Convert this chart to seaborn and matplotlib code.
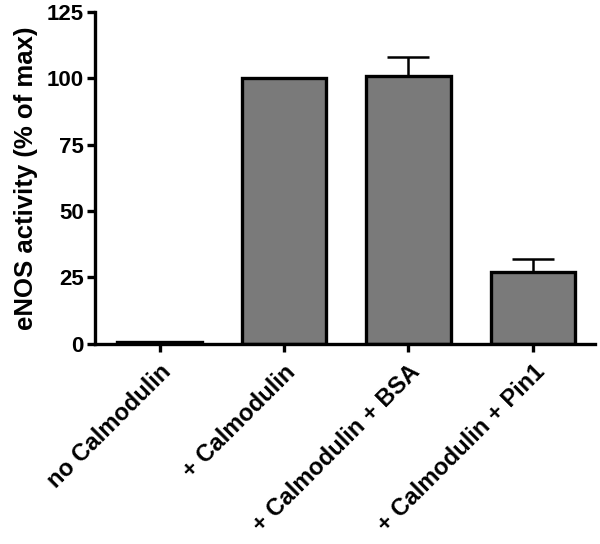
import pandas as pd
import seaborn as sns
import matplotlib.pyplot as plt

# eNOS activity per condition
conditions = ["no Calmodulin", "+ Calmodulin", "+ Calmodulin + BSA", "+ Calmodulin + Pin1"]
activity = [0.5, 100, 101, 27]
sem = [0, 0, 7, 5]

df = pd.DataFrame({"condition": conditions, "activity": activity})

sns.set_style("ticks")
plt.rcParams['font.family'] = ['Liberation Sans', 'DejaVu Sans']
plt.rcParams['font.weight'] = 'bold'
plt.rcParams['text.color'] = 'black'
plt.rcParams['axes.labelcolor'] = 'black'
plt.rcParams['xtick.color'] = 'black'
plt.rcParams['ytick.color'] = 'black'
plt.rcParams['axes.edgecolor'] = 'black'

fig = plt.figure(figsize=(6, 5.44), dpi=100)
ax = fig.add_axes([0.158, 0.368, 0.834, 0.61])

sns.barplot(data=df, x="condition", y="activity", color="#7a7a7a", saturation=1,
            edgecolor="black", linewidth=2.4, width=0.68, errorbar=None, ax=ax)
ax.errorbar(range(len(conditions)), activity, yerr=[[0] * len(sem), sem],
            fmt="none", ecolor="black", elinewidth=1.8, capsize=15, capthick=1.8)

ax.set_ylim(0, 125)
ax.set_yticks([0, 25, 50, 75, 100, 125])
ax.set_xlim(-0.52, 3.5)
ax.set_xlabel("")
ax.set_ylabel("eNOS activity (% of max)", fontsize=18.5, fontweight="bold", labelpad=6)
sns.despine(ax=ax)
for s in ["left", "bottom"]:
    ax.spines[s].set_linewidth(2.4)
ax.tick_params(width=2.4, length=6)
ax.tick_params(axis="y", labelsize=16, pad=2)
ax.tick_params(axis="x", labelsize=17, pad=6)
plt.setp(ax.get_xticklabels(), rotation=45, ha="right", rotation_mode="anchor", fontweight="bold")
plt.setp(ax.get_yticklabels(), fontweight="bold")

plt.savefig("out.png", dpi=100)
